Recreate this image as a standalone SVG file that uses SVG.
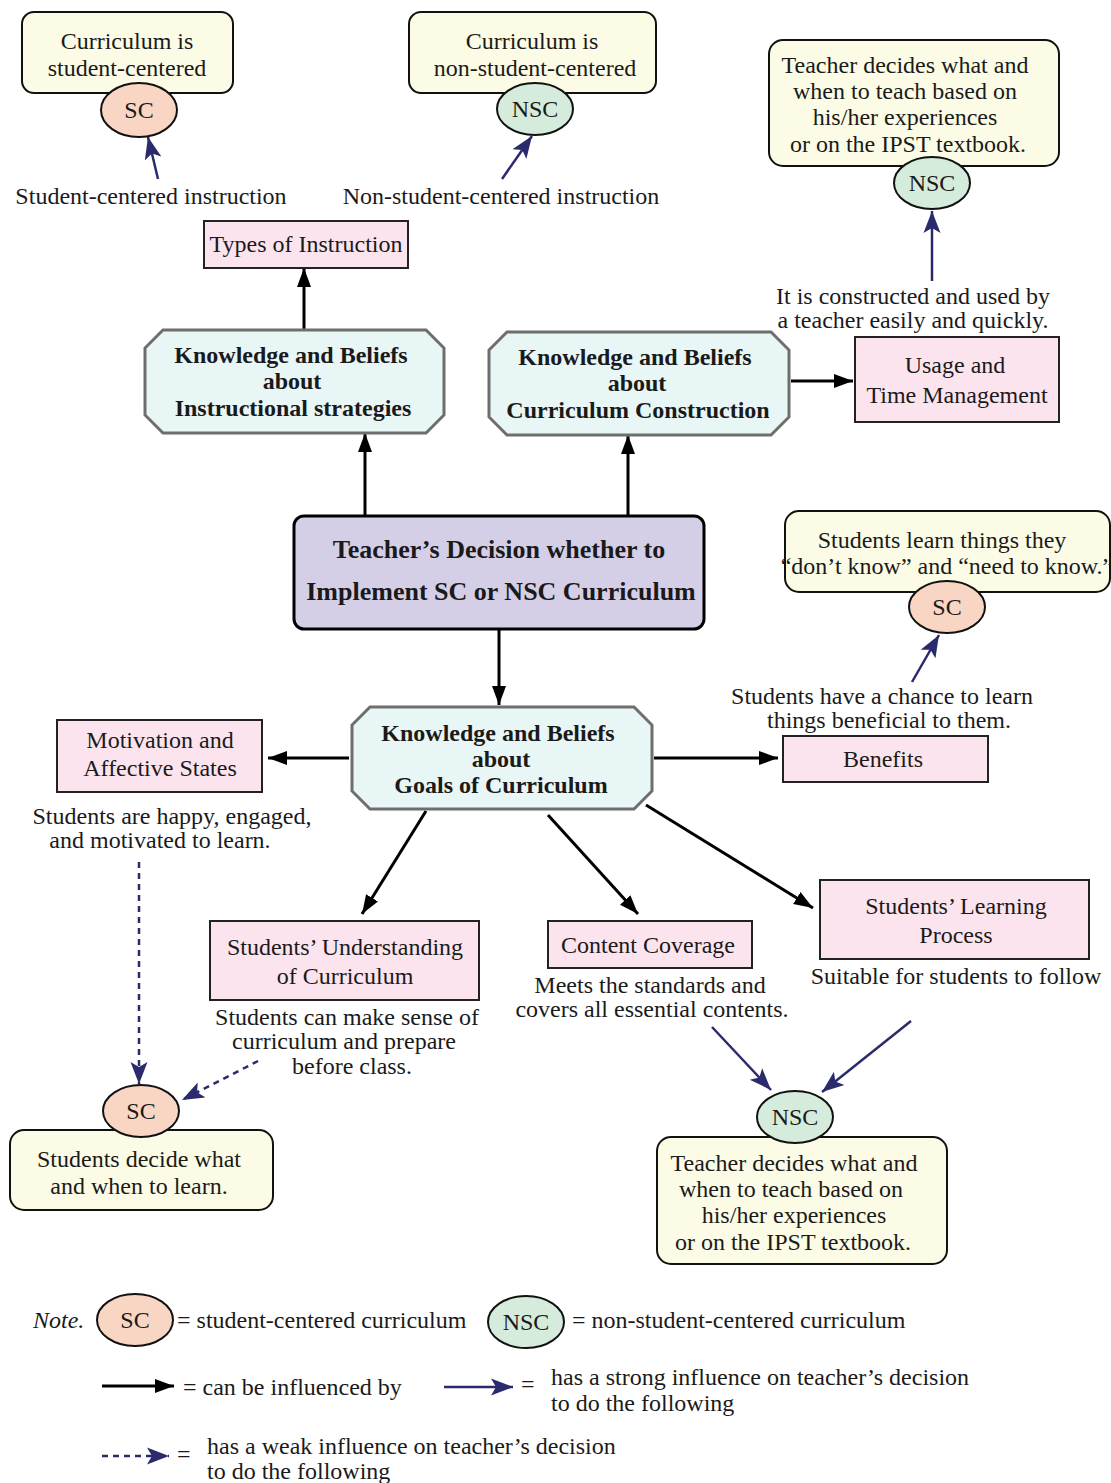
<svg xmlns="http://www.w3.org/2000/svg" width="1111" height="1483" viewBox="0 0 1111 1483">
  <style>
    text { font-family: "Liberation Serif", "Times New Roman", serif; font-size: 24px; fill: #1a1a1a; text-anchor: middle; }
    .b { font-weight: bold; }
    .c { font-size: 26px; font-weight: bold; }
    .l { text-anchor: start; }
    .yel { fill: #fcfce6; stroke: #111; stroke-width: 2; }
    .pink { fill: #fce4ee; stroke: #222; stroke-width: 2; }
    .oct { fill: #e9f6f6; stroke: #6e6e6e; stroke-width: 3; }
    .sc { fill: #f9d6c3; stroke: #111; stroke-width: 2; }
    .nsc { fill: #d5ebdb; stroke: #111; stroke-width: 2; }
    .blk { stroke: #000; stroke-width: 3; fill: none; marker-end: url(#ah-black); }
    .nav { stroke: #2a2a6c; stroke-width: 2.5; fill: none; marker-end: url(#ah-navy); }
    .dash { stroke: #2a2a6c; stroke-width: 2.5; fill: none; stroke-dasharray: 6 5; marker-end: url(#ah-navy); }
  </style>
  <defs>
    <marker id="ah-black" markerUnits="userSpaceOnUse" markerWidth="20" markerHeight="16" refX="19" refY="8" orient="auto">
      <path d="M0,1 L19,8 L0,15 z" fill="#000"/>
    </marker>
    <marker id="ah-navy" markerUnits="userSpaceOnUse" markerWidth="23" markerHeight="19" refX="22" refY="9.5" orient="auto">
      <path d="M0,1 L22,9.5 L0,18 L5,9.5 z" fill="#2a2a6c"/>
    </marker>
  </defs>

  <rect width="1111" height="1483" fill="#ffffff"/>

  <!-- connectors -->
  <g id="connectors">
    <line class="nav" x1="158" y1="179" x2="148" y2="137"/>
    <line class="nav" x1="502" y1="179" x2="532" y2="136"/>
    <line class="nav" x1="932" y1="281" x2="932" y2="211"/>
    <line class="blk" x1="304" y1="329" x2="304" y2="268"/>
    <line class="blk" x1="365" y1="516" x2="365" y2="433"/>
    <line class="blk" x1="628" y1="516" x2="628" y2="435"/>
    <line class="blk" x1="791" y1="381" x2="853" y2="381"/>
    <line class="blk" x1="499" y1="630" x2="499" y2="705"/>
    <line class="blk" x1="349" y1="758" x2="268" y2="758"/>
    <line class="blk" x1="654" y1="758" x2="778" y2="758"/>
    <line class="blk" x1="426" y1="811" x2="362" y2="914"/>
    <line class="blk" x1="548" y1="815" x2="638" y2="914"/>
    <line class="blk" x1="646" y1="805" x2="813" y2="908"/>
    <line class="nav" x1="912" y1="682" x2="939" y2="635"/>
    <line class="dash" x1="139" y1="862" x2="139" y2="1084"/>
    <line class="dash" x1="258" y1="1061" x2="182" y2="1100"/>
    <line class="nav" x1="712" y1="1027" x2="771" y2="1090"/>
    <line class="nav" x1="911" y1="1021" x2="822" y2="1092"/>
  </g>

  <!-- top row: instruction outcomes -->
  <g id="sc-curriculum">
    <rect class="yel" x="22" y="12" width="211" height="81" rx="12"/>
    <text x="127" y="49">Curriculum is</text>
    <text x="127" y="76">student-centered</text>
    <ellipse class="sc" cx="139" cy="110" rx="38" ry="27"/>
    <text x="139" y="118">SC</text>
  </g>
  <g id="sc-instruction-label"><text x="151" y="204">Student-centered instruction</text></g>

  <g id="nsc-curriculum">
    <rect class="yel" x="409" y="12" width="247" height="81" rx="12"/>
    <text x="532" y="49">Curriculum is</text>
    <text x="535" y="76">non-student-centered</text>
    <ellipse class="nsc" cx="535" cy="109" rx="38" ry="26"/>
    <text x="535" y="117">NSC</text>
  </g>
  <g id="nsc-instruction-label"><text x="501" y="204">Non-student-centered instruction</text></g>

  <g id="teacher-decides-top">
    <rect class="yel" x="769" y="40" width="290" height="126" rx="14"/>
    <text x="905" y="73">Teacher decides what and</text>
    <text x="905" y="99">when to teach based on</text>
    <text x="905" y="125">his/her experiences</text>
    <text x="908" y="152">or on the IPST textbook.</text>
    <ellipse class="nsc" cx="932" cy="183" rx="38" ry="26"/>
    <text x="932" y="191">NSC</text>
  </g>
  <g id="usage-label">
    <text x="913" y="304">It is constructed and used by</text>
    <text x="913" y="328">a teacher easily and quickly.</text>
  </g>

  <g id="types-of-instruction">
    <rect class="pink" x="204" y="221" width="204" height="47"/>
    <text x="306" y="252">Types of Instruction</text>
  </g>

  <!-- knowledge and beliefs octagons -->
  <g id="kb-instruction">
    <path class="oct" d="M163,330 H426 L444,348 V415 L426,433 H163 L145,415 V348 Z"/>
    <text class="b" x="291" y="363">Knowledge and Beliefs</text>
    <text class="b" x="292" y="389">about</text>
    <text class="b" x="293" y="416">Instructional strategies</text>
  </g>

  <g id="kb-construction">
    <path class="oct" d="M507,332 H771 L789,350 V417 L771,435 H507 L489,417 V350 Z"/>
    <text class="b" x="635" y="365">Knowledge and Beliefs</text>
    <text class="b" x="637" y="391">about</text>
    <text class="b" x="638" y="418">Curriculum Construction</text>
  </g>

  <g id="usage-time">
    <rect class="pink" x="855" y="337" width="204" height="85"/>
    <text x="955" y="373">Usage and</text>
    <text x="957" y="403">Time Management</text>
  </g>

  <!-- central decision -->
  <g id="decision">
    <rect x="294" y="516" width="410" height="113" rx="10" fill="#d4cfe6" stroke="#000" stroke-width="3"/>
    <text class="c" x="499" y="558">Teacher’s Decision whether to</text>
    <text class="c" x="501" y="600">Implement SC or NSC Curriculum</text>
  </g>

  <!-- benefits branch -->
  <g id="students-learn">
    <rect class="yel" x="785" y="511" width="325" height="81" rx="14"/>
    <text x="942" y="548">Students learn things they</text>
    <text x="947" y="574" font-size="22.5">“don’t know” and “need to know.”</text>
    <ellipse class="sc" cx="947" cy="607" rx="38" ry="26"/>
    <text x="947" y="615">SC</text>
  </g>
  <g id="benefits-label">
    <text x="882" y="704">Students have a chance to learn</text>
    <text x="889" y="728">things beneficial to them.</text>
  </g>

  <g id="kb-goals">
    <path class="oct" d="M370,707 H634 L652,725 V791 L634,809 H370 L352,791 V725 Z"/>
    <text class="b" x="498" y="741">Knowledge and Beliefs</text>
    <text class="b" x="501" y="767">about</text>
    <text class="b" x="501" y="793">Goals of Curriculum</text>
  </g>

  <g id="motivation">
    <rect class="pink" x="57" y="720" width="205" height="72"/>
    <text x="160" y="748">Motivation and</text>
    <text x="160" y="776">Affective States</text>
  </g>
  <g id="motivation-label">
    <text x="172" y="824">Students are happy, engaged,</text>
    <text x="160" y="848">and motivated to learn.</text>
  </g>

  <g id="benefits">
    <rect class="pink" x="783" y="736" width="205" height="46"/>
    <text x="883" y="767">Benefits</text>
  </g>

  <g id="understanding">
    <rect class="pink" x="210" y="921" width="269" height="79"/>
    <text x="345" y="955">Students’ Understanding</text>
    <text x="345" y="984">of Curriculum</text>
  </g>
  <g id="understanding-label">
    <text x="347" y="1025">Students can make sense of</text>
    <text x="344" y="1049">curriculum and prepare</text>
    <text x="352" y="1074">before class.</text>
  </g>

  <g id="content-coverage">
    <rect class="pink" x="548" y="921" width="204" height="47"/>
    <text x="648" y="953">Content Coverage</text>
  </g>
  <g id="coverage-label">
    <text x="650" y="993">Meets the standards and</text>
    <text x="652" y="1017">covers all essential contents.</text>
  </g>

  <g id="learning-process">
    <rect class="pink" x="820" y="880" width="269" height="79"/>
    <text x="956" y="914">Students’ Learning</text>
    <text x="956" y="943">Process</text>
  </g>
  <g id="process-label"><text x="956" y="984">Suitable for students to follow</text></g>

  <g id="students-decide">
    <rect class="yel" x="10" y="1130" width="263" height="80" rx="14"/>
    <text x="139" y="1167">Students decide what</text>
    <text x="139" y="1194">and when to learn.</text>
    <ellipse class="sc" cx="141" cy="1111" rx="38" ry="26"/>
    <text x="141" y="1119">SC</text>
  </g>

  <g id="teacher-decides-bottom">
    <rect class="yel" x="657" y="1137" width="290" height="127" rx="14"/>
    <text x="794" y="1171">Teacher decides what and</text>
    <text x="791" y="1197">when to teach based on</text>
    <text x="794" y="1223">his/her experiences</text>
    <text x="793" y="1250">or on the IPST textbook.</text>
    <ellipse class="nsc" cx="795" cy="1117" rx="38" ry="26"/>
    <text x="795" y="1125">NSC</text>
  </g>

  <!-- legend -->
  <g id="legend">
    <text class="l" x="33" y="1328" font-style="italic">Note.</text>
    <ellipse class="sc" cx="135" cy="1320" rx="38" ry="26"/>
    <text x="135" y="1328">SC</text>
    <text class="l" x="177" y="1328">= student-centered curriculum</text>
    <ellipse class="nsc" cx="526" cy="1322" rx="38" ry="26"/>
    <text x="526" y="1330">NSC</text>
    <text class="l" x="572" y="1328">= non-student-centered curriculum</text>

    <line class="blk" x1="102" y1="1386" x2="174" y2="1386"/>
    <text class="l" x="183" y="1395">= can be influenced by</text>
    <line class="nav" x1="444" y1="1387" x2="513" y2="1387"/>
    <text class="l" x="521" y="1392">=</text>
    <text class="l" x="551" y="1385">has a strong influence on teacher’s decision</text>
    <text class="l" x="551" y="1411">to do the following</text>

    <line class="dash" x1="102" y1="1456" x2="169" y2="1456"/>
    <text class="l" x="177" y="1462">=</text>
    <text class="l" x="207" y="1454">has a weak influence on teacher’s decision</text>
    <text class="l" x="207" y="1479">to do the following</text>
  </g>
</svg>
